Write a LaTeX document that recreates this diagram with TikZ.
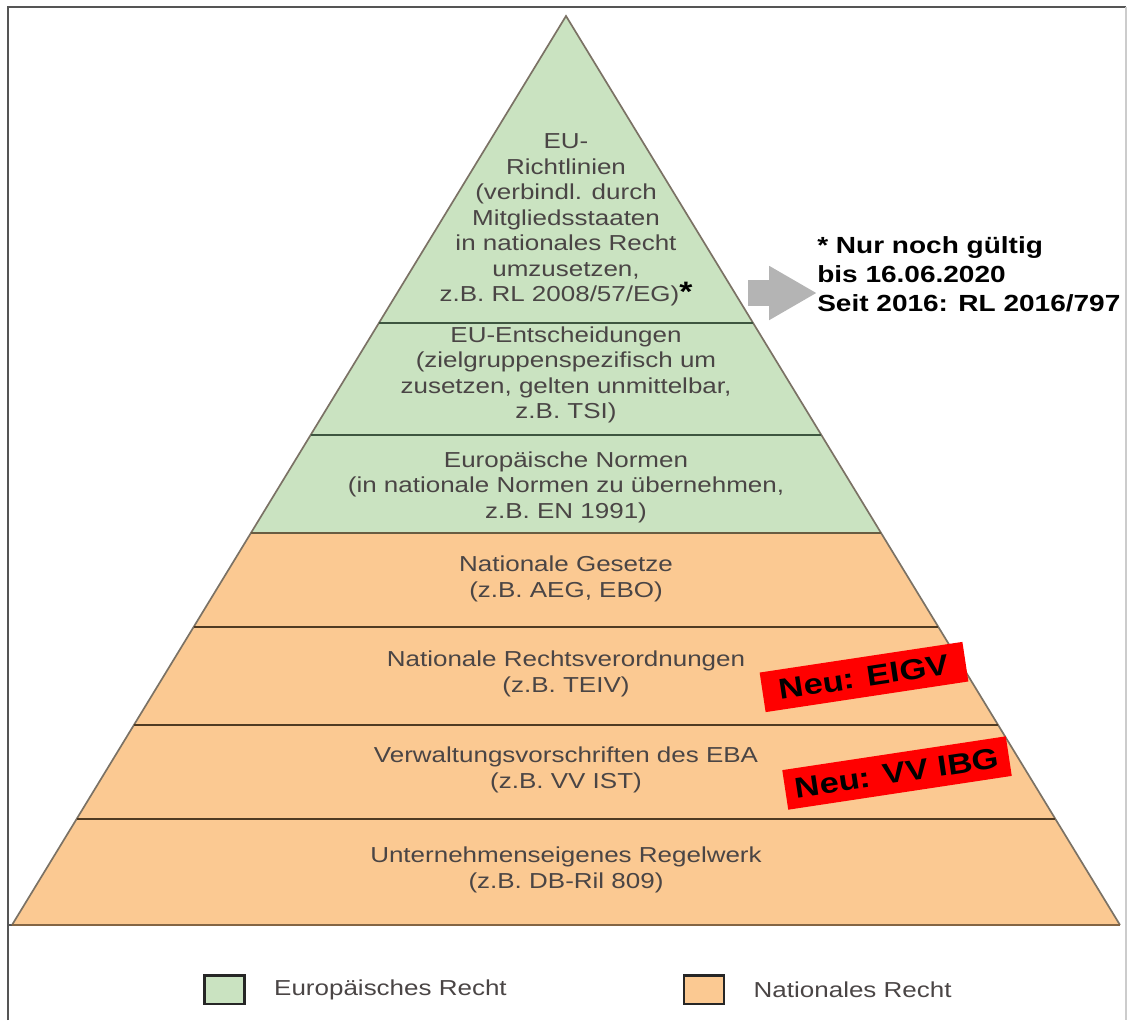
\documentclass[tikz,border=0pt]{standalone}
\usepackage{fontspec}
\setmainfont{Liberation Sans}[FakeStretch=1.2]
\usetikzlibrary{arrows.meta,positioning}

\definecolor{eugreen}{HTML}{CAE3C1}
\definecolor{natorange}{HTML}{FBC992}
\definecolor{greenline}{HTML}{3E5640}
\definecolor{brownline}{HTML}{4F3A22}
\definecolor{edgegray}{HTML}{7B7265}
\definecolor{textgray}{HTML}{4A4545}
\definecolor{framegray}{HTML}{555555}
\definecolor{arrowgray}{HTML}{B4B4B4}

\newcommand\layerfont{\fontsize{15.4}{18.1}\selectfont}
\newcommand\notefont{\fontsize{16.6}{20.6}\selectfont\bfseries}
\newcommand\tagfont{\fontsize{20.4}{24}\selectfont\bfseries}

\tikzset{
  layertext/.style={align=center, text=textgray, font=\layerfont, inner sep=0pt},
  neutag/.style={fill=red, text=black, font=\tagfont, minimum height=1cm, inner sep=0pt, rotate=8.6},
  legendbox/.style={draw=black!85, line width=2pt, minimum width=1.0cm, minimum height=0.72cm, inner sep=0pt},
  legendtext/.style={text=textgray, font=\layerfont, inner sep=0pt},
}

\begin{document}
\begin{tikzpicture}[x=0.025cm, y=-0.025cm]
    \useasboundingbox (0,0) rectangle (1128,1020);

    % Frame
    \draw[framegray, line width=1.5pt] (8,1020) -- (8,7) -- (1126,7);
    \draw[black!20, line width=1pt] (1126,7) -- (1126,1020);
    \draw[framegray, line width=1.2pt] (8,925) -- (1120,925);

    % Layers of the pyramid
    \fill[eugreen] (566,16) -- (753.1,323) -- (378.9,323) -- cycle;
    \fill[eugreen] (378.9,323) -- (753.1,323) -- (881.1,533) -- (250.9,533) -- cycle;
    \fill[natorange] (250.9,533) -- (881.1,533) -- (1120,925) -- (12,925) -- cycle;

    % Outline and separators
    \draw[edgegray, line width=1.2pt] (12,925) -- (566,16) -- (1120,925);
    \draw[greenline, line width=1.4pt] (378.9,323) -- (753.1,323);
    \draw[greenline, line width=1.4pt] (310.6,435) -- (821.4,435);
    \draw[brownline!80!eugreen, line width=1.4pt] (250.9,533) -- (881.1,533);
    \draw[brownline, line width=1.4pt] (193.6,627) -- (938.4,627);
    \draw[brownline, line width=1.4pt] (133.9,725) -- (998.1,725);
    \draw[brownline, line width=1.4pt] (76.6,819) -- (1055.4,819);
    \draw[brownline!70!natorange, line width=1.4pt] (12,925) -- (1120,925);

    % Layer texts
    \node[layertext] (richtlinien) at (566,220) {EU-\\Richtlinien\\(verbindl. durch\\Mitgliedsstaaten\\in nationales Recht\\umzusetzen,\\z.B. RL 2008/57/EG){\color{black}\bfseries\fontsize{20}{18}\selectfont*}};
    \node[layertext] (entscheidungen) at (566,375) {EU-Entscheidungen\\(zielgruppenspezifisch um\\zusetzen, gelten unmittelbar,\\z.B. TSI)};
    \node[layertext] (normen) at (566,487) {Europäische Normen\\(in nationale Normen zu übernehmen,\\z.B. EN 1991)};
    \node[layertext] (gesetze) at (566,579) {Nationale Gesetze\\(z.B. AEG, EBO)};
    \node[layertext] (verordnungen) at (566,674) {Nationale Rechtsverordnungen\\(z.B. TEIV)};
    \node[layertext] (vorschriften) at (566,770) {Verwaltungsvorschriften des EBA\\(z.B. VV IST)};
    \node[layertext] (regelwerk) at (566,870) {Unternehmenseigenes Regelwerk\\(z.B. DB-Ril 809)};

    % New regulations
    \node[neutag, minimum width=5.125cm] (eigv) at (864,677) {Neu: EIGV};
    \node[neutag, minimum width=5.65cm] (vvibg) at (897,773) {Neu: VV IBG};

    % Note on the directive
    \node[anchor=west, align=left, font=\notefont, inner sep=0pt] (note) at (817,274) {* Nur noch gültig\\bis 16.06.2020\\Seit 2016: RL 2016/797};
    \coordinate (arrowtail) at (748,293);
    \draw[arrowgray, line width=18.5pt, -{Triangle[length=34pt, width=36pt]}] (arrowtail) -- (arrowtail -| note.west);

    % Legend
    \node[legendbox, fill=eugreen] (eubox) at (224.5,989.5) {};
    \node[legendtext, right=0.7cm of eubox] (eutext) {Europäisches Recht};
    \node[legendbox, fill=natorange] (natbox) at (704,989.5) {};
    \node[legendtext, right=0.7cm of natbox] (nattext) {Nationales Recht};
\end{tikzpicture}
\end{document}
